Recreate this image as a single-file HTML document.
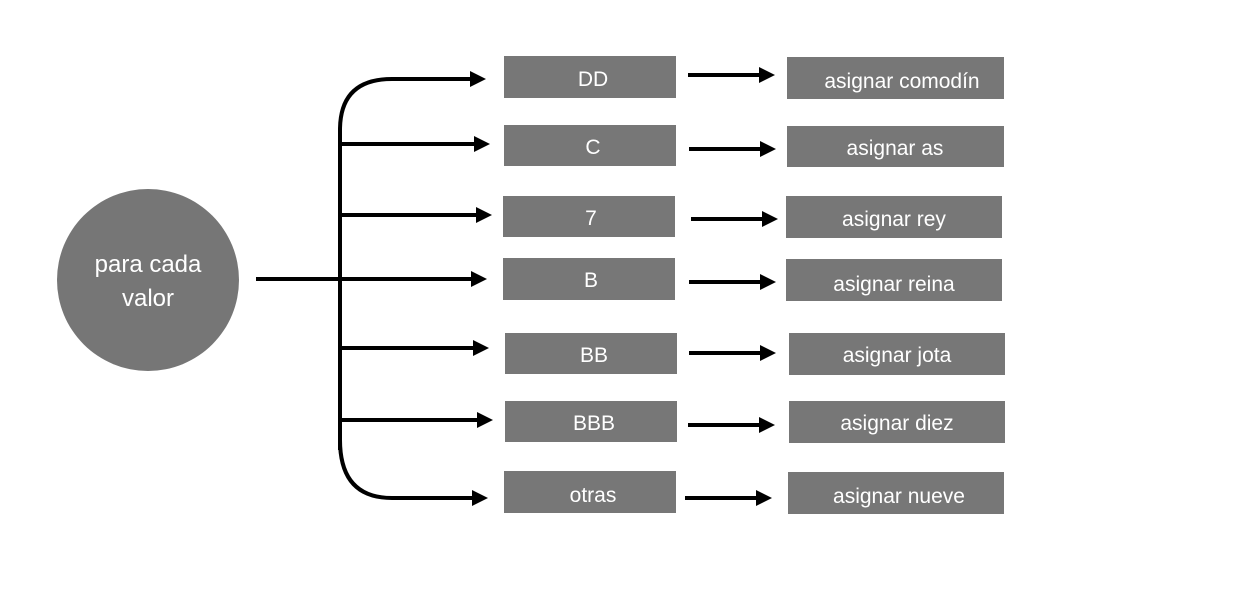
<!DOCTYPE html>
<html><head><meta charset="utf-8"><style>
html,body{margin:0;padding:0;background:#fff;}
svg text{font-family:"Liberation Sans",sans-serif;fill:#fff;}
</style></head><body>
<svg width="1252" height="601" viewBox="0 0 1252 601" xmlns="http://www.w3.org/2000/svg">
<defs>
<marker id="a" markerWidth="4" markerHeight="4" refX="0" refY="2" orient="auto" markerUnits="strokeWidth">
<path d="M0,0 L4,2 L0,4 Z" fill="#000"/></marker>
</defs>
<circle cx="148" cy="280" r="91" fill="#767676"/>
<text x="148" y="272" font-size="24" text-anchor="middle">para cada</text>
<text x="148" y="306" font-size="24" text-anchor="middle">valor</text>
<g stroke="#000" stroke-width="4" fill="none">
<path d="M340,450 L340,130 Q340,79 392,79 L470,79" marker-end="url(#a)"/>
<path d="M340,440 Q340,498 392,498 L472,498" marker-end="url(#a)"/>
<path d="M340,144 L474,144" marker-end="url(#a)"/>
<path d="M340,215 L476,215" marker-end="url(#a)"/>
<path d="M256,279 L471,279" marker-end="url(#a)"/>
<path d="M340,348 L473,348" marker-end="url(#a)"/>
<path d="M340,420 L477,420" marker-end="url(#a)"/>
<path d="M688,75 L759,75" marker-end="url(#a)"/>
<path d="M689,149 L760,149" marker-end="url(#a)"/>
<path d="M691,219 L762,219" marker-end="url(#a)"/>
<path d="M689,282 L760,282" marker-end="url(#a)"/>
<path d="M689,353 L760,353" marker-end="url(#a)"/>
<path d="M688,425 L759,425" marker-end="url(#a)"/>
<path d="M685,498 L756,498" marker-end="url(#a)"/>
</g>
<g fill="#777">
<rect x="504" y="56" width="172" height="42"/>
<rect x="504" y="125" width="172" height="41"/>
<rect x="503" y="196" width="172" height="41"/>
<rect x="503" y="258" width="172" height="42"/>
<rect x="505" y="333" width="172" height="41"/>
<rect x="505" y="401" width="172" height="41"/>
<rect x="504" y="471" width="172" height="42"/>
<rect x="787" y="57" width="217" height="42"/>
<rect x="787" y="126" width="217" height="41"/>
<rect x="786" y="196" width="216" height="42"/>
<rect x="786" y="259" width="216" height="42"/>
<rect x="789" y="333" width="216" height="42"/>
<rect x="789" y="401" width="216" height="42"/>
<rect x="788" y="472" width="216" height="42"/>
</g>
<g font-size="21" text-anchor="middle">
<text x="593" y="86">DD</text>
<text x="593" y="154">C</text>
<text x="591" y="225">7</text>
<text x="591" y="287">B</text>
<text x="594" y="362">BB</text>
<text x="594" y="430">BBB</text>
<text x="593" y="502">otras</text>
<text x="902" y="88">asignar comodín</text>
<text x="895" y="155">asignar as</text>
<text x="894" y="226">asignar rey</text>
<text x="894" y="291">asignar reina</text>
<text x="897" y="362">asignar jota</text>
<text x="897" y="430">asignar diez</text>
<text x="899" y="503">asignar nueve</text>
</g>
</svg>
</body></html>
